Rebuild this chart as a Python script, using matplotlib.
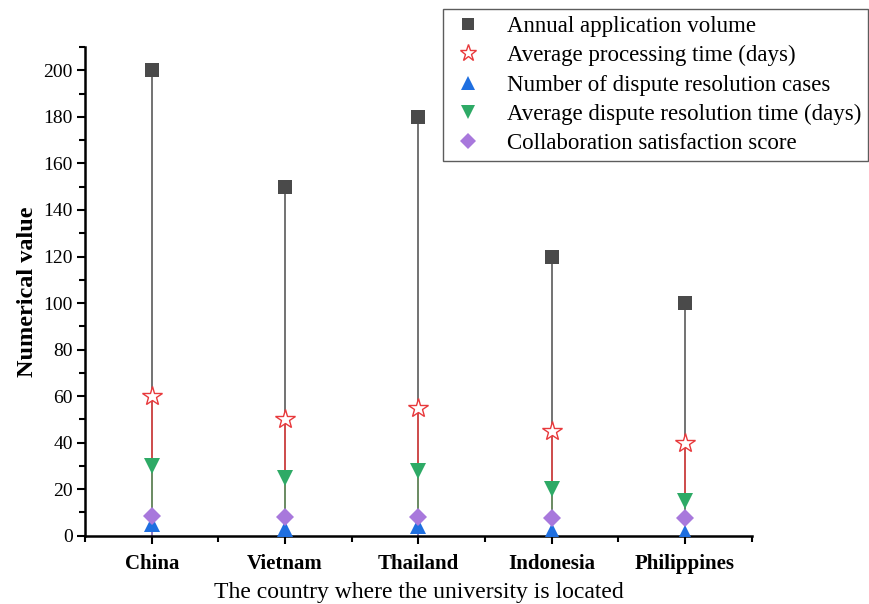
import matplotlib
matplotlib.use('Agg')
import matplotlib.pyplot as plt
from matplotlib.ticker import MultipleLocator

plt.rcParams['font.family'] = ['Liberation Serif', 'DejaVu Serif']

countries = ['China', 'Vietnam', 'Thailand', 'Indonesia', 'Philippines']
annual_volume = [200, 150, 180, 120, 100]
processing_time = [60, 50, 55, 45, 40]
dispute_cases = [5, 3, 4, 2, 1]
dispute_time = [30, 25, 28, 20, 15]
satisfaction = [8.5, 8, 8.2, 7.8, 7.5]

series = [
    ('Annual application volume', annual_volume, '#4a4a4a', '#5a5a5a', 's', 'full'),
    ('Average processing time (days)', processing_time, '#e8393c', '#e04848', '*', 'none'),
    ('Number of dispute resolution cases', dispute_cases, '#1f6fe0', '#3b7fe0', '^', 'full'),
    ('Average dispute resolution time (days)', dispute_time, '#2eaa66', '#5a9a6a', 'v', 'full'),
    ('Collaboration satisfaction score', satisfaction, '#a878dc', '#a07ad0', 'D', 'full'),
]
marker_sizes = {'s': 10, '*': 15, '^': 12, 'v': 12, 'D': 9}

fig = plt.figure(figsize=(8.69, 6.04), dpi=100)
ax = fig.add_axes([0.098, 0.113, 0.767, 0.809])

x = list(range(1, len(countries) + 1))
handles = []
for label, vals, mcol, lcol, mk, fill in series:
    ax.vlines(x, 0, vals, colors=lcol, linewidth=1.2, zorder=2)
    ms = marker_sizes[mk]
    if fill == 'none':
        h, = ax.plot(x, vals, linestyle='none', marker=mk, markersize=ms,
                     markerfacecolor='white', markeredgecolor=mcol,
                     markeredgewidth=1.0, label=label, zorder=3)
    else:
        h, = ax.plot(x, vals, linestyle='none', marker=mk, markersize=ms,
                     color=mcol, markeredgewidth=0, label=label, zorder=3)
    handles.append(h)

ax.set_xlim(0.5, 5.5)
ax.set_ylim(0, 210)
ax.set_xticks(x)
ax.set_xticklabels(countries, fontsize=15, fontweight='bold')
ax.set_xticks([0.5, 1.5, 2.5, 3.5, 4.5, 5.5], minor=True)
ax.yaxis.set_major_locator(MultipleLocator(20))
ax.yaxis.set_minor_locator(MultipleLocator(10))
ax.tick_params(axis='y', labelsize=14, pad=3)
ax.tick_params(axis='x', pad=7)
ax.tick_params(which='major', direction='out', length=6, width=1.5)
ax.tick_params(which='minor', direction='out', length=4, width=1.5)
for s in ['top', 'right']:
    ax.spines[s].set_visible(False)
for s in ['left', 'bottom']:
    ax.spines[s].set_linewidth(1.8)

ax.set_xlabel('The country where the university is located', fontsize=17, labelpad=6)
ax.set_ylabel('Numerical value', fontsize=17.5, fontweight='bold', labelpad=4)

leg = fig.legend(handles=handles, loc='upper right', bbox_to_anchor=(0.999, 0.985),
                 fontsize=16.5, frameon=True, fancybox=False, edgecolor='#333333',
                 handlelength=1.6, handletextpad=0.9, labelspacing=0.36,
                 borderpad=0.3, borderaxespad=0, markerscale=0.85)
leg.get_frame().set_linewidth(1.0)

fig.savefig('out.png', dpi=100)
